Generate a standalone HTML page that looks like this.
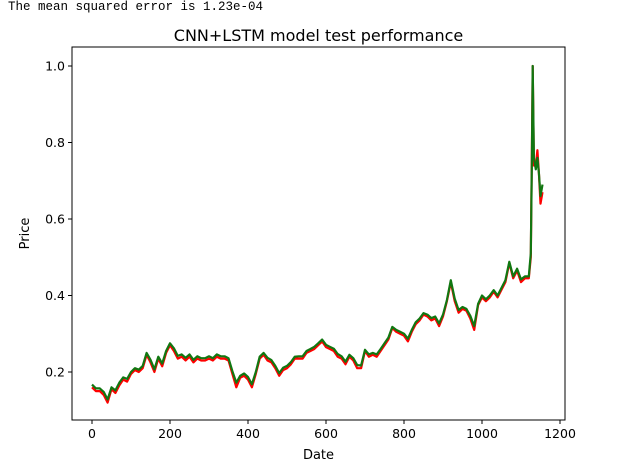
<!DOCTYPE html>
<html><head><meta charset="utf-8"><style>
body{margin:0;background:#fff;width:619px;height:470px;overflow:hidden}
.mse{position:absolute;left:8px;top:0px;font-family:"Liberation Mono",monospace;font-size:12.5px;color:#000}
svg{position:absolute;left:0;top:0}
</style></head><body>
<div class="mse">The mean squared error is 1.23e-04</div>
<svg width="619" height="470" font-family="DejaVu Sans, sans-serif">
<g id="plot"></g>
</svg>
<script>
const idx=[0,10,20,30,40,50,60,70,80,90,100,110,120,130,140,150,160,170,180,190,200,210,220,230,240,250,260,270,280,290,300,310,320,330,340,350,360,370,380,390,400,410,420,430,440,450,460,470,480,490,500,510,520,530,540,550,560,570,580,590,600,610,620,630,640,650,660,670,680,690,700,710,720,730,740,750,760,770,780,790,800,810,820,830,840,850,860,870,880,890,900,910,920,930,940,950,960,970,980,990,1000,1010,1020,1030,1040,1050,1060,1070,1080,1090,1100,1110,1120,1125,1128,1130,1133,1138,1142,1146,1150,1155];
const actual=[0.16,0.15,0.15,0.14,0.12,0.155,0.145,0.165,0.18,0.175,0.195,0.205,0.2,0.21,0.245,0.225,0.2,0.235,0.215,0.25,0.27,0.255,0.235,0.24,0.23,0.24,0.225,0.235,0.23,0.23,0.235,0.23,0.24,0.235,0.235,0.23,0.195,0.16,0.185,0.19,0.18,0.16,0.195,0.235,0.245,0.23,0.225,0.21,0.19,0.205,0.21,0.22,0.235,0.235,0.235,0.25,0.255,0.26,0.27,0.28,0.265,0.26,0.255,0.24,0.235,0.22,0.24,0.23,0.21,0.21,0.255,0.24,0.245,0.24,0.255,0.27,0.285,0.315,0.305,0.3,0.295,0.28,0.305,0.325,0.335,0.35,0.345,0.335,0.34,0.32,0.345,0.385,0.435,0.385,0.355,0.365,0.36,0.34,0.31,0.375,0.395,0.385,0.395,0.41,0.395,0.415,0.435,0.485,0.445,0.465,0.435,0.445,0.445,0.5,0.78,1.0,0.74,0.74,0.78,0.72,0.64,0.67];
const predicted=[0.167,0.157,0.157,0.148,0.128,0.16,0.152,0.172,0.186,0.182,0.2,0.21,0.206,0.216,0.25,0.232,0.207,0.24,0.222,0.255,0.275,0.262,0.242,0.246,0.237,0.246,0.232,0.241,0.236,0.236,0.241,0.236,0.246,0.241,0.241,0.236,0.202,0.172,0.19,0.196,0.187,0.168,0.2,0.24,0.25,0.237,0.231,0.216,0.197,0.211,0.216,0.226,0.24,0.241,0.241,0.255,0.26,0.266,0.275,0.285,0.271,0.266,0.261,0.247,0.241,0.227,0.245,0.236,0.218,0.217,0.258,0.246,0.25,0.246,0.26,0.275,0.29,0.318,0.31,0.305,0.3,0.287,0.31,0.33,0.34,0.354,0.35,0.341,0.345,0.327,0.35,0.388,0.44,0.392,0.362,0.37,0.365,0.347,0.32,0.378,0.4,0.39,0.4,0.414,0.4,0.42,0.44,0.488,0.45,0.47,0.442,0.45,0.45,0.51,0.76,1.0,0.76,0.73,0.76,0.72,0.66,0.69];
const xTicks=[0,200,400,600,800,1000,1200];
const yTicks=[0.2,0.4,0.6,0.8,1.0];
const L=72,R=565,T=47,B=420,xmin=-51.3,xmax=1212.8,ymin=0.0745,ymax=1.0497;
const X=v=>L+(v-xmin)/(xmax-xmin)*(R-L);
const Y=v=>B-(v-ymin)/(ymax-ymin)*(B-T);
const g=document.getElementById('plot');const NS='http://www.w3.org/2000/svg';
function mk(t,a){const e=document.createElementNS(NS,t);for(const k in a)e.setAttribute(k,a[k]);g.appendChild(e);return e;}
function line(arr,color,name){const d=idx.map((x,i)=>(i?'L':'M')+X(x).toFixed(1)+' '+Y(arr[i]).toFixed(1)).join(' ');
const p=mk('path',{d:d,fill:'none',stroke:color,'stroke-width':2.2,'stroke-linejoin':'round'});

}
line(actual,'#ff0000','actual-price-line');
line(predicted,'#117711','predicted-price-line');
const fr=mk('rect',{x:L,y:T,width:R-L,height:B-T,fill:'none',stroke:'#000','stroke-width':1});


xTicks.forEach(v=>{const x=X(v);mk('line',{x1:x,x2:x,y1:B,y2:B+4,stroke:'#000'});
const t=mk('text',{x:x,y:B+18,'text-anchor':'middle','font-size':12.5});t.textContent=v;

});
yTicks.forEach(v=>{const y=Y(v);mk('line',{x1:L-4,x2:L,y1:y,y2:y,stroke:'#000'});
const t=mk('text',{x:L-7,y:y+4.5,'text-anchor':'end','font-size':12.5});t.textContent=v.toFixed(1);

});
const ti=mk('text',{x:(L+R)/2,y:41,'text-anchor':'middle','font-size':16});ti.textContent='CNN+LSTM model test performance';


const xl=mk('text',{x:(L+R)/2,y:459,'text-anchor':'middle','font-size':13});xl.textContent='Date';


const yl=mk('text',{x:29,y:(T+B)/2,'text-anchor':'middle','font-size':13,transform:'rotate(-90 29 '+((T+B)/2)+')'});yl.textContent='Price';


</script>
</body></html>
